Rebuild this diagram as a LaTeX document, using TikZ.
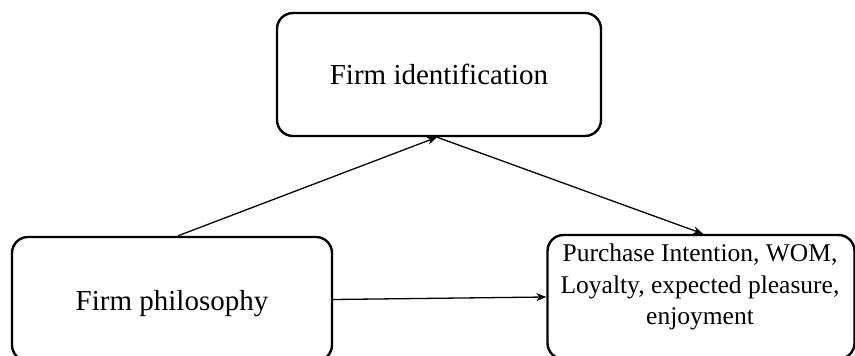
\documentclass[tikz,border=0pt]{standalone}
\usepackage{fontspec}
\setmainfont{Liberation Serif}
\usetikzlibrary{arrows.meta}
\begin{document}
\begin{tikzpicture}[x=1pt,y=-1pt,
  box/.style={draw, line width=2.4pt, rounded corners=16pt, inner sep=0pt, align=center, font=\fontsize{29}{31.5}\selectfont},
  txt/.style={inner sep=0pt, align=center, font=\fontsize{29}{31.5}\selectfont},
  arr/.style={-{Stealth[length=10pt,width=8pt]}, line width=1.3pt}]
\useasboundingbox (0,0) rectangle (855,356);
\node[box, minimum width=324pt, minimum height=123pt] (fi) at (439,74.5) {Firm identification};
\node[box, minimum width=320pt, minimum height=124pt] (fp) at (172,299) {};
\node[txt] (fpt) at (172,304) {Firm philosophy};
\node[box, minimum width=307pt, minimum height=124pt] (out) at (701,297) {};
\node[txt, font=\fontsize{25.5}{31.5}\selectfont] (outt) at (700,287) {Purchase Intention, WOM,\\Loyalty, expected pleasure,\\enjoyment};
\draw[arr] ([xshift=6pt]fp.north) -- ([xshift=-2pt]fi.south);
\draw[arr] ([xshift=-2pt]fi.south) -- ([xshift=2pt]out.north);
\draw[arr] ([yshift=-0.5pt]fp.east) -- ([yshift=0pt]out.west);
\end{tikzpicture}
\end{document}
